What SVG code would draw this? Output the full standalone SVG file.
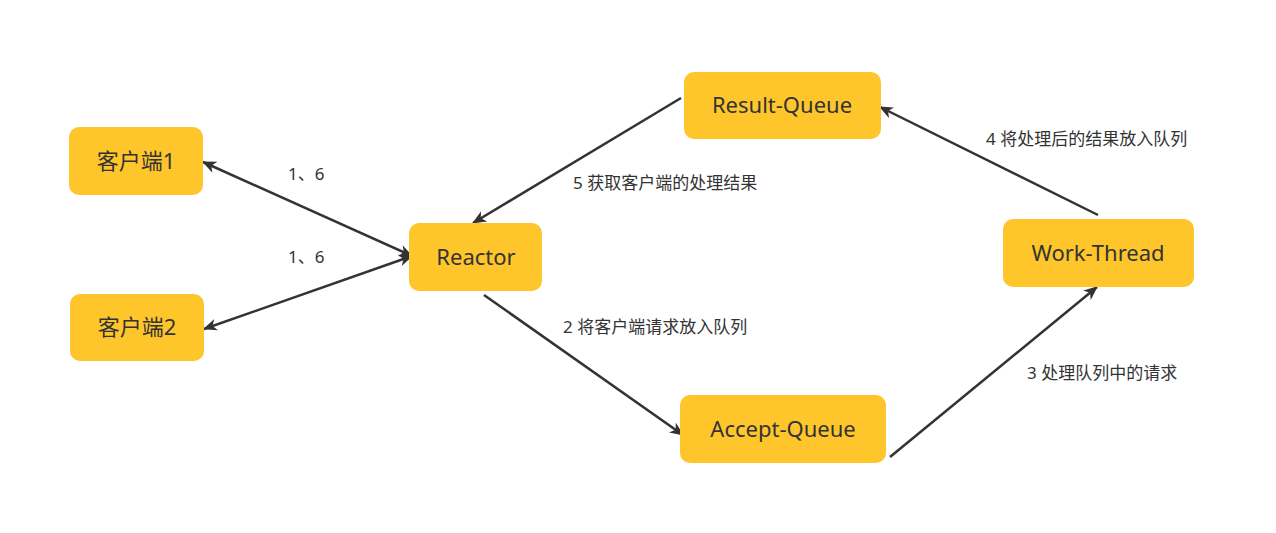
<svg xmlns="http://www.w3.org/2000/svg" width="1276" height="533" viewBox="0 0 1276 533">
<style>
.node{fill:#ffc62b;}
.nt{font-family:"Noto Sans","Noto Sans CJK SC",sans-serif;font-size:22px;fill:#333333;text-anchor:middle;dominant-baseline:central;}
.lbl{font-family:"Noto Sans","Noto Sans CJK SC",sans-serif;font-size:17px;fill:#333333;}
.edge{stroke:#333333;stroke-width:2.5;fill:none;}
</style>
<defs>
<marker id="arr" markerUnits="userSpaceOnUse" viewBox="0 0 14 12" refX="13" refY="6" markerWidth="14" markerHeight="12" orient="auto-start-reverse">
<path d="M0,0 L14,6 L0,12 L4,6 z" fill="#333333"/>
</marker>
</defs>
<rect width="1276" height="533" fill="#ffffff"/>
<g id="edges">
<line class="edge" x1="203" y1="162" x2="412" y2="256" marker-start="url(#arr)" marker-end="url(#arr)"/>
<line class="edge" x1="204" y1="329" x2="412" y2="256" marker-start="url(#arr)" marker-end="url(#arr)"/>
<line class="edge" x1="681" y1="98" x2="473" y2="223" marker-end="url(#arr)"/>
<line class="edge" x1="484" y1="295" x2="683" y2="435" marker-end="url(#arr)"/>
<line class="edge" x1="890" y1="457" x2="1097" y2="287" marker-end="url(#arr)"/>
<line class="edge" x1="1098" y1="215" x2="880" y2="107" marker-end="url(#arr)"/>
<text class="lbl" x="288" y="180">1、6</text>
<text class="lbl" x="288" y="263">1、6</text>
<text class="lbl" x="573" y="189">5 获取客户端的处理结果</text>
<text class="lbl" x="563" y="333">2 将客户端请求放入队列</text>
<text class="lbl" x="1027" y="379">3 处理队列中的请求</text>
<text class="lbl" x="986" y="145">4 将处理后的结果放入队列</text>
</g>
<g id="client1"><rect class="node" x="69" y="127" width="134" height="68" rx="10"/><text class="nt" x="136" y="160">客户端1</text></g>
<g id="client2"><rect class="node" x="70" y="294" width="134" height="67" rx="10"/><text class="nt" x="137" y="326">客户端2</text></g>
<g id="reactor"><rect class="node" x="409" y="223" width="133" height="68" rx="10"/><text class="nt" x="476" y="256">Reactor</text></g>
<g id="result-queue"><rect class="node" x="684" y="72" width="197" height="67" rx="10"/><text class="nt" x="782" y="104">Result-Queue</text></g>
<g id="work-thread"><rect class="node" x="1003" y="219" width="191" height="68" rx="10"/><text class="nt" x="1098" y="252">Work-Thread</text></g>
<g id="accept-queue"><rect class="node" x="680" y="395" width="206" height="68" rx="10"/><text class="nt" x="783" y="428">Accept-Queue</text></g>
</svg>
